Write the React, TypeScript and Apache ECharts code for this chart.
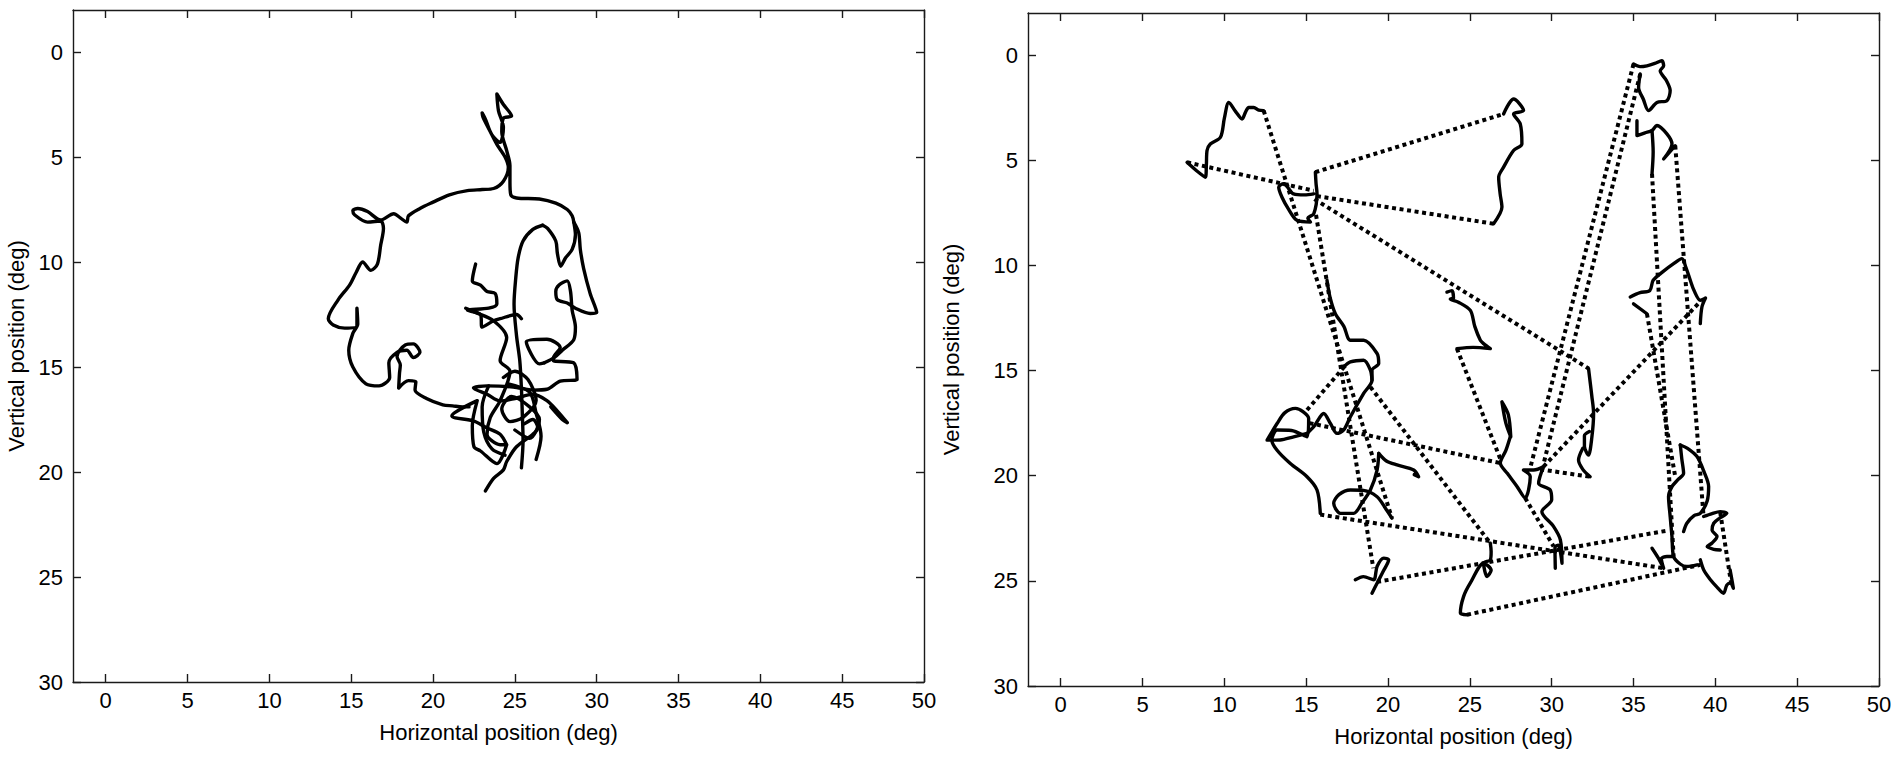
import React, { useEffect, useRef } from "react";
import * as echarts from "echarts";

type P = [number, number];

// ---------- axes ----------
const xTickValues = [0, 5, 10, 15, 20, 25, 30, 35, 40, 45, 50];
const yTickValues = [0, 5, 10, 15, 20, 25, 30];
const xMin = -2;
const xMax = 50;
const yMin = -2;
const yMax = 30;
const xTitle = "Horizontal position (deg)";
const yTitle = "Vertical position (deg)";

// ---------- left panel: one continuous scan path (deg) ----------
const leftOuterLoop: P[] = [
  [22.2, 16.9], [21.8, 16.9], [21.2, 16.85], [20.6, 16.8], [19.6, 16.5], [18.9, 16.1], [18.95, 15.7],
  [18.5, 15.65], [17.9, 16.0], [17.95, 15.3], [18.0, 14.9], [17.8, 14.5], [18.3, 13.95], [18.8, 13.9],
  [19.2, 14.3], [18.8, 14.55], [18.4, 14.2], [17.8, 14.3], [17.3, 14.8], [17.35, 15.5], [16.7, 15.9],
  [15.9, 15.8], [15.1, 15.0], [14.85, 14.2], [15.1, 13.4], [15.4, 12.95], [15.35, 12.2], [15.35, 13.05],
  [14.6, 13.15], [13.9, 13.0], [13.6, 12.7], [14.2, 11.8], [14.9, 11.1], [15.3, 10.5], [15.7, 10.0],
  [16.2, 10.4], [16.6, 10.1], [16.8, 9.2], [16.97, 8.4], [16.8, 8.05], [16.0, 8.1], [15.2, 7.75],
  [15.1, 7.55], [15.4, 7.45], [16.0, 7.6], [16.8, 8.0], [17.6, 7.7], [18.0, 7.9], [18.4, 8.1],
  [18.5, 7.8], [19.2, 7.45], [20.0, 7.15], [21.0, 6.8], [22.1, 6.6], [23.0, 6.55], [23.7, 6.5],
  [24.3, 6.15], [24.6, 5.5], [24.4, 5.0], [23.9, 4.4], [23.5, 3.8], [23.05, 3.1], [23.0, 2.9],
  [23.2, 3.2], [23.6, 3.95], [24.1, 4.3], [24.3, 3.6], [24.0, 2.8], [23.9, 2.0], [24.3, 2.5],
  [24.8, 3.05], [24.3, 3.15], [24.2, 3.8], [24.5, 4.7], [24.7, 5.4], [24.7, 6.2], [24.75, 6.8],
  [25.1, 6.95], [26.5, 7.0], [27.5, 7.2], [28.2, 7.5], [28.5, 7.8], [28.6, 8.1], [28.7, 8.7],
  [28.5, 9.4], [28.1, 9.8], [27.8, 10.2], [27.6, 9.6], [27.5, 9.0], [27.0, 8.4], [26.7, 8.25],
];
const leftInnerBranch: P[] = [
  [26.7, 8.25], [26.1, 8.45], [25.5, 9.0], [25.2, 9.8], [25.05, 10.8], [24.95, 12.0], [25.1, 13.5],
  [25.3, 14.7], [25.4, 16.0], [25.45, 17.1], [25.5, 18.5], [25.4, 19.8],
];
const leftRightBranch: P[] = [
  [28.6, 8.1], [28.9, 8.6], [29.0, 9.4], [29.2, 10.3], [29.6, 11.5], [30.0, 12.4], [29.6, 12.45],
  [28.7, 12.2], [28.2, 11.95], [27.6, 11.8], [27.5, 11.4], [27.7, 11.1], [28.2, 10.9], [28.4, 11.4],
  [28.5, 12.3], [28.7, 13.1], [28.6, 13.7], [27.9, 14.2], [27.4, 14.55], [26.8, 14.8],
];
const tangleBottom: P[] = [
  [23.2, 20.9], [23.7, 20.3], [24.3, 19.9], [24.5, 19.5], [25.1, 18.8], [26.1, 18.2], [26.4, 17.9],
  [26.1, 17.5], [25.6, 17.7],
];
const tangleRight: P[] = [
  [26.8, 14.8], [26.5, 14.85], [25.7, 13.8], [26.96, 13.68], [27.77, 14.08], [27.36, 14.56],
  [27.36, 14.7], [28.59, 14.8], [28.8, 15.6], [27.77, 15.67], [26.96, 16.06], [26.14, 16.1],
  [24.9, 15.95], [23.3, 15.9], [22.47, 16.0], [23.3, 16.3], [24.1, 16.62], [25.0, 16.5], [26.1, 16.3],
  [26.96, 16.6], [27.6, 17.1], [28.2, 17.65], [27.9, 17.5], [27.2, 16.9],
];
const tangleTop: P[] = [
  [22.6, 10.1], [22.4, 10.9], [22.9, 11.1], [23.3, 11.4], [23.8, 11.5], [23.9, 12.0], [23.4, 12.2],
  [22.1, 12.3], [22.9, 12.5], [23.0, 13.1], [23.7, 12.8], [24.1, 12.7], [25.1, 12.5], [25.4, 12.7],
];
const tangleLeft: P[] = [
  [22.0, 12.2], [22.6, 12.4], [23.7, 12.8], [24.5, 13.6], [24.1, 14.7], [24.7, 15.2], [24.1, 16.6],
  [23.5, 17.4], [23.3, 18.2], [24.1, 18.7], [24.5, 18.7], [23.9, 19.6], [22.9, 19.0], [22.5, 18.8],
  [22.4, 17.8], [22.7, 16.6], [21.15, 17.33], [22.47, 17.57], [23.3, 17.9], [24.1, 18.2], [24.5, 18.7],
];
const tangleCore: P[] = [
  [24.3, 15.5], [25.0, 15.2], [25.8, 15.6], [26.3, 16.6], [25.5, 17.4], [24.7, 17.6], [24.2, 17.0],
  [24.8, 16.4], [25.9, 16.9], [26.5, 17.5], [25.9, 18.4], [25.0, 18.0],
];
const tangleExtraA: P[] = [[24.6, 15.8], [25.9, 16.2], [26.3, 17.2], [26.6, 18.3], [26.3, 19.4]];
const tangleExtraB: P[] = [[23.4, 15.9], [23.0, 16.9], [23.1, 18.1], [23.6, 18.9], [24.4, 19.2]];

// ---------- right panel: fixations (solid) ----------
const fix1: P[] = [
  [7.72, 5.1], [8.3, 5.5], [8.84, 5.81], [8.9, 5.2], [8.94, 4.54], [9.14, 4.23], [9.76, 3.91],
  [10.0, 3.0], [10.27, 2.25], [10.7, 2.7], [11.08, 3.04], [11.3, 2.7], [11.49, 2.49], [11.79, 2.49],
  [12.1, 2.62], [12.4, 2.64],
];
const fix2: P[] = [
  [15.56, 5.57], [15.6, 6.1], [15.66, 6.6], [15.46, 7.55], [15.1, 7.75], [15.26, 7.94], [14.44, 7.86],
  [13.9, 7.3], [13.52, 6.76], [13.32, 6.28], [13.62, 6.12], [14.23, 6.6], [14.9, 6.65], [15.46, 6.6],
];
const fix3: P[] = [
  [27.06, 2.8], [27.67, 2.09], [28.28, 2.64], [27.67, 2.8], [28.08, 3.28], [28.18, 4.23], [27.67, 4.54],
  [27.06, 5.33], [26.76, 5.81], [26.85, 6.6], [26.96, 7.23], [26.45, 8.02],
];
const fix4: P[] = [
  [16.27, 10.71], [16.45, 11.5], [16.78, 12.3], [17.3, 12.9], [17.7, 13.56], [18.51, 13.56],
  [19.33, 14.19], [19.43, 14.67], [19.02, 14.98], [19.02, 15.46], [18.51, 16.09], [17.7, 17.2],
  [17.29, 17.83], [16.88, 17.99], [16.48, 17.52], [16.07, 17.04], [15.46, 17.67], [15.05, 17.99],
];
const fix4b: P[] = [[17.29, 14.83], [17.7, 14.59], [18.51, 14.51], [18.92, 14.98], [19.02, 15.46]];
const fix5: P[] = [
  [15.05, 17.99], [14.23, 18.15], [13.4, 18.3], [12.61, 18.31], [13.22, 17.52], [13.7, 17.0],
  [14.34, 16.8], [14.8, 16.95], [15.15, 17.28], [15.05, 18.15], [14.1, 17.85], [13.22, 17.83],
  [12.9, 18.31], [13.22, 18.79], [14.03, 19.42], [15.05, 20.05], [15.66, 20.68], [15.86, 21.79],
];
const fix6: P[] = [
  [19.43, 18.94], [19.33, 19.73], [18.92, 20.68], [18.4, 21.3], [17.9, 21.79], [17.09, 21.79],
  [16.68, 21.31], [17.0, 20.9], [17.7, 20.68], [18.5, 20.7], [19.33, 21.0], [19.8, 21.5], [20.24, 22.02],
];
const fix6b: P[] = [[19.43, 18.94], [19.9, 19.3], [20.55, 19.49], [21.57, 19.73], [21.87, 20.05], [21.6, 19.95]];
const fix7: P[] = [
  [18.0, 24.95], [18.5, 24.8], [19.12, 24.95], [19.33, 24.32], [19.74, 23.92], [20.04, 24.0],
  [19.74, 24.5], [19.33, 25.11], [19.02, 25.59],
];
const fix8: P[] = [
  [26.25, 23.21], [26.3, 23.6], [26.25, 24.0], [25.84, 24.16], [26.05, 24.79], [26.3, 24.5],
  [25.84, 24.16], [25.03, 25.1], [24.62, 25.74], [24.42, 26.53], [24.83, 26.61],
];
const fix9: P[] = [
  [23.6, 11.27], [23.9, 11.2], [24.0, 11.55], [23.8, 11.6], [24.3, 11.75], [25.03, 12.14], [25.3, 12.9],
  [25.64, 13.56], [25.84, 13.72], [26.25, 13.96], [25.2, 13.9], [24.21, 13.96],
];
const fix10a: P[] = [[26.96, 16.49], [27.35, 17.1], [27.5, 18.15], [27.2, 17.5], [26.96, 16.49]];
const fix10: P[] = [
  [27.47, 18.15], [27.2, 18.8], [26.86, 19.4], [27.3, 19.9], [27.87, 20.5], [28.38, 21.06],
  [28.69, 20.05], [28.28, 19.73], [28.9, 19.73], [29.5, 19.57], [29.2, 20.36], [29.91, 20.68],
  [30.0, 21.15], [29.4, 21.71], [30.12, 22.42], [30.53, 23.05], [30.63, 24.16], [30.4, 23.3],
  [30.2, 23.4], [30.22, 24.4],
];
const fixV: P[] = [
  [32.25, 14.9], [32.45, 16.2], [32.56, 17.04], [32.45, 18.2], [32.25, 19.02], [32.0, 18.6],
  [32.0, 18.1], [32.3, 17.9],
];
const fixVb: P[] = [[31.9, 18.7], [31.64, 19.26], [31.9, 19.7], [32.35, 20.05]];
const fix11: P[] = [
  [35.0, 0.43], [35.4, 0.55], [35.82, 0.51], [36.3, 0.4], [36.73, 0.27], [36.84, 0.51], [36.63, 0.75],
  [37.0, 1.2], [37.24, 1.69], [37.04, 2.17], [36.43, 2.25], [35.92, 2.64], [35.6, 2.1], [35.31, 1.54],
  [35.41, 0.9],
];
const fix12: P[] = [
  [35.21, 3.12], [35.21, 3.83], [35.7, 3.7], [36.13, 3.59], [36.43, 3.35], [37.04, 3.75], [37.35, 4.23],
  [36.84, 4.94], [37.55, 4.31],
];
const fix12b: P[] = [[36.13, 3.59], [36.2, 4.6], [36.13, 5.65]];
const fix13: P[] = [
  [34.8, 11.5], [35.4, 11.3], [36.0, 11.19], [36.2, 10.71], [36.8, 10.3], [37.45, 9.92], [37.96, 9.68],
  [38.2, 10.1], [38.47, 10.71], [38.7, 11.2], [39.08, 11.66], [39.4, 11.55], [39.18, 11.98], [39.08, 12.77],
];
const fix13b: P[] = [[35.82, 12.3], [35.0, 11.83]];
const fix14: P[] = [
  [37.86, 18.54], [38.3, 18.7], [38.88, 19.09], [39.3, 19.8], [39.59, 20.52], [39.5, 21.2],
  [39.08, 21.79], [38.7, 21.9], [38.26, 22.26], [38.06, 22.66],
];
const fix14b: P[] = [
  [37.86, 18.54], [37.95, 19.2], [38.06, 19.89], [37.7, 20.2], [37.35, 20.52], [37.14, 20.99],
  [37.24, 21.94], [37.35, 22.9], [37.45, 23.84], [37.85, 24.2], [38.26, 24.32], [38.88, 24.24],
];
const fix14c: P[] = [[36.13, 23.45], [36.5, 23.9], [36.84, 24.4], [36.7, 23.95], [37.04, 23.84], [37.45, 23.84]];
const fix15: P[] = [
  [39.28, 21.94], [39.8, 21.8], [40.3, 21.71], [40.7, 21.79], [40.3, 22.0], [39.9, 22.26], [39.8, 22.6],
  [40.1, 22.89], [39.8, 23.2], [39.5, 23.37], [39.9, 23.5], [40.3, 23.53],
];
const fix15b: P[] = [
  [39.08, 24.0], [39.3, 24.5], [39.7, 24.95], [40.1, 25.3], [40.5, 25.59], [40.7, 25.2], [40.9, 25.11],
  [41.1, 25.35], [41.0, 24.9], [40.9, 24.48],
];

// ---------- right panel: saccades (dotted), start -> end ----------
const saccades: [P, P][] = [
  [[7.72, 5.1], [15.46, 6.45]],
  [[12.4, 2.64], [20.24, 22.02]],
  [[15.6, 7.6], [19.1, 24.4]],
  [[15.5, 6.85], [32.25, 14.9]],
  [[15.56, 5.57], [27.06, 2.8]],
  [[26.45, 8.02], [15.6, 6.7]],
  [[24.21, 13.96], [26.86, 19.2]],
  [[15.86, 21.85], [36.84, 24.4]],
  [[24.83, 26.61], [39.08, 24.24]],
  [[19.33, 25.05], [37.14, 22.6]],
  [[15.2, 17.5], [26.86, 19.4]],
  [[15.05, 16.88], [17.4, 14.75]],
  [[18.92, 15.78], [26.25, 23.21]],
  [[28.38, 21.06], [30.12, 23.37]],
  [[35.0, 0.43], [28.7, 19.6]],
  [[35.41, 0.9], [29.5, 19.45]],
  [[29.5, 19.57], [39.1, 11.7]],
  [[29.3, 19.7], [32.35, 20.05]],
  [[36.13, 5.65], [37.45, 23.84]],
  [[37.55, 4.31], [39.28, 21.94]],
  [[35.82, 12.3], [37.55, 20.05]],
  [[40.3, 21.75], [41.0, 25.3]],
];

const leftTraces: P[][] = [
  leftOuterLoop, leftInnerBranch, leftRightBranch, tangleBottom, tangleRight, tangleTop, tangleLeft,
  tangleCore, tangleExtraA, tangleExtraB,
];
const rightFixations: P[][] = [
  fix1, fix2, fix3, fix4, fix4b, fix5, fix6, fix6b, fix7, fix8, fix9, fix10a, fix10, fixV, fixVb,
  fix11, fix12, fix12b, fix13, fix13b, fix14, fix14b, fix14c, fix15, fix15b,
];

const FONT = "'Liberation Sans', Arial, Helvetica, sans-serif";
const AXIS_COLOR = "#1a1a1a";

function makeAxes(gridIndex: number, yNameGap: number) {
  const line = { show: true, onZero: false, lineStyle: { color: AXIS_COLOR, width: 1.4 } };
  const tickStyle = { color: AXIS_COLOR, width: 1.4 };
  const labelStyle = { fontSize: 22, color: "#000", fontFamily: FONT };
  const xAxes = [
    {
      type: "value", gridIndex, position: "bottom", min: xMin, max: xMax,
      axisLine: line,
      axisTick: { show: true, inside: true, length: 8, customValues: xTickValues, lineStyle: tickStyle },
      axisLabel: { show: true, customValues: xTickValues, margin: 7, ...labelStyle },
      splitLine: { show: false },
      name: xTitle, nameLocation: "middle", nameGap: 39,
      nameTextStyle: { ...labelStyle },
    },
    {
      type: "value", gridIndex, position: "top", min: xMin, max: xMax,
      axisLine: line,
      axisTick: { show: true, inside: true, length: 8, customValues: xTickValues, lineStyle: tickStyle },
      axisLabel: { show: false },
      splitLine: { show: false },
    },
  ];
  const yAxes = [
    {
      type: "value", gridIndex, position: "left", min: yMin, max: yMax, inverse: true,
      axisLine: line,
      axisTick: { show: true, inside: true, length: 8, customValues: yTickValues, lineStyle: tickStyle },
      axisLabel: { show: true, customValues: yTickValues, margin: 10, ...labelStyle },
      splitLine: { show: false },
      name: yTitle, nameLocation: "middle", nameGap: yNameGap,
      nameTextStyle: { ...labelStyle },
    },
    {
      type: "value", gridIndex, position: "right", min: yMin, max: yMax, inverse: true,
      axisLine: line,
      axisTick: { show: true, inside: true, length: 8, customValues: yTickValues, lineStyle: tickStyle },
      axisLabel: { show: false },
      splitLine: { show: false },
    },
  ];
  return { xAxes, yAxes };
}

export default function App() {
  const ref = useRef<HTMLDivElement>(null);

  useEffect(() => {
    if (!ref.current) return;
    const chart = echarts.init(ref.current, null, { renderer: "svg" });

    const a0 = makeAxes(0, 46);
    const a1 = makeAxes(1, 66);

    const series: any[] = [];
    leftTraces.forEach((pts) => {
      series.push({
        type: "line", xAxisIndex: 0, yAxisIndex: 0, data: pts, symbol: "none", smooth: 0.3,
        silent: true, lineStyle: { color: "#000", width: 3.4, cap: "round", join: "round" },
      });
    });
    rightFixations.forEach((pts) => {
      series.push({
        type: "line", xAxisIndex: 2, yAxisIndex: 2, data: pts, symbol: "none", smooth: 0.3,
        silent: true, lineStyle: { color: "#000", width: 3.4, cap: "round", join: "round" },
      });
    });
    saccades.forEach((seg) => {
      series.push({
        type: "line", xAxisIndex: 2, yAxisIndex: 2, data: seg, symbol: "none",
        silent: true, lineStyle: { color: "#000", width: 4, type: [4, 3.6], cap: "butt" },
      });
    });

    chart.setOption({
      animation: false,
      backgroundColor: "#fff",
      grid: [
        { left: 73, top: 10, width: 851, height: 672, containLabel: false },
        { left: 1028, top: 13, width: 851, height: 673, containLabel: false },
      ],
      xAxis: [...a0.xAxes, ...a1.xAxes],
      yAxis: [...a0.yAxes, ...a1.yAxes],
      series,
    });

    return () => chart.dispose();
  }, []);

  return (
    <div
      ref={ref}
      style={{ position: "absolute", left: 0, top: 0, width: 1901, height: 761, background: "#fff" }}
    />
  );
}
